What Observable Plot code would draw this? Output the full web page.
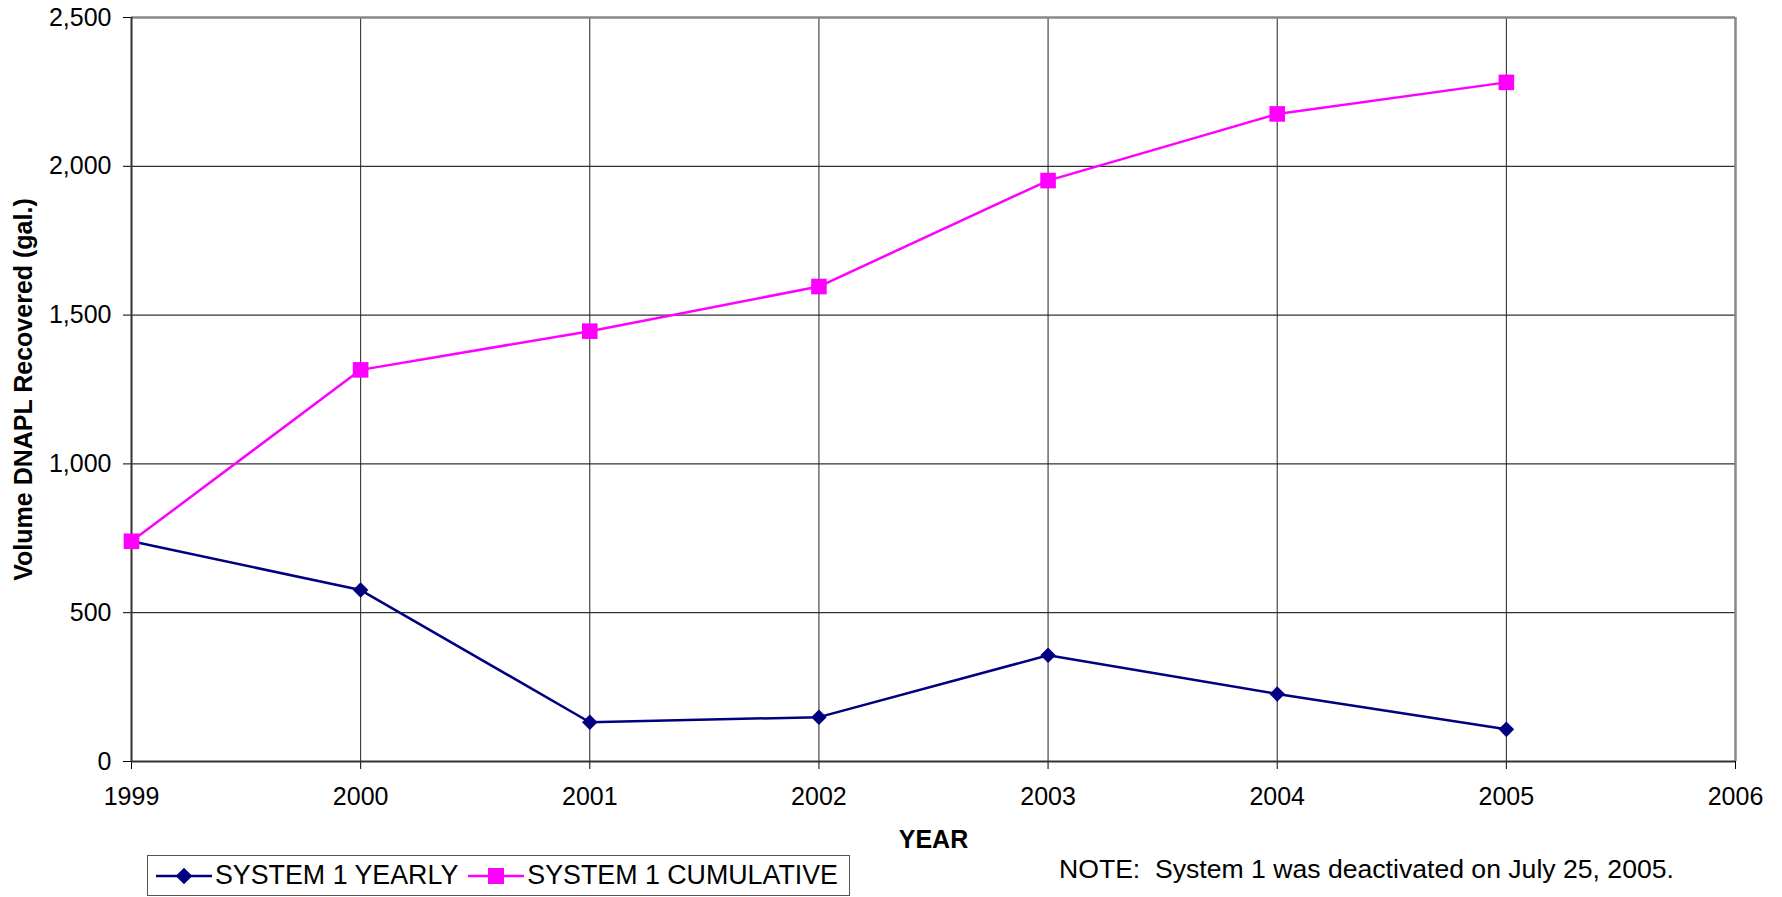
<!DOCTYPE html>
<html>
<head>
<meta charset="utf-8">
<script src="https://cdn.jsdelivr.net/npm/d3@7"></script>
<script src="https://cdn.jsdelivr.net/npm/@observablehq/plot@0.6"></script>
<style>
  html, body { margin: 0; padding: 0; background: #fff; }
  #wrap { position: relative; width: 1782px; height: 897px; font-family: "Liberation Sans", Arial, sans-serif; color: #000; }
  #legend { position: absolute; left: 147px; top: 855px; width: 703px; height: 41px; border: 1px solid #555; box-sizing: border-box; display: flex; align-items: center; font-size: 26.8px; white-space: nowrap; }
  #legend .item { display: flex; align-items: center; }
  #legend svg { display: block; }
  #note { position: absolute; left: 1059px; top: 854px; font-size: 26.6px; white-space: pre; line-height: 30px; }
</style>
</head>
<body>
<div id="wrap">
  <div id="chart"></div>
  <div id="legend"></div>
  <div id="note"></div>
</div>
<script>
const years = [1999, 2000, 2001, 2002, 2003, 2004, 2005];
const yearly = [740, 576, 132, 149, 357, 227, 108];
const cumulative = [740, 1316, 1446, 1596, 1952, 2176, 2282];
const xTicks = [1999, 2000, 2001, 2002, 2003, 2004, 2005, 2006];
const yTicks = [0, 500, 1000, 1500, 2000, 2500];
const seriesNames = ["SYSTEM 1 YEARLY", "SYSTEM 1 CUMULATIVE"];
const seriesColors = ["#000080", "#FF00FF"];
const seriesSymbols = ["diamond2", "square"];
const xTitle = "YEAR";
const yTitle = "Volume DNAPL Recovered (gal.)";
const noteText = "NOTE:  System 1 was deactivated on July 25, 2005.";

const yearlyData = years.map((y, i) => ({year: y, value: yearly[i]}));
const cumData = years.map((y, i) => ({year: y, value: cumulative[i]}));

const chart = Plot.plot({
  width: 1782,
  height: 852,
  marginLeft: 131,
  marginRight: 47,
  marginTop: 17,
  marginBottom: 91,
  style: {fontFamily: "'Liberation Sans', Arial, sans-serif", fontSize: "25px", color: "#000", background: "#fff"},
  x: {domain: [1999, 2006], ticks: xTicks, tickFormat: d => String(d), tickSize: 8, tickPadding: 18, label: null},
  y: {domain: [0, 2500], ticks: yTicks, tickFormat: d3.format(","), tickSize: 8, tickPadding: 12, label: null},
  marks: [
    Plot.ruleY(yTicks.slice(1, -1), {stroke: "#000", strokeWidth: 1}),
    Plot.ruleX(xTicks.slice(1, -1), {stroke: "#222", strokeWidth: 1}),
    Plot.ruleY([yTicks[yTicks.length - 1]], {stroke: "#888", strokeWidth: 2.5}),
    Plot.ruleX([xTicks[xTicks.length - 1]], {stroke: "#888", strokeWidth: 2.5}),
    Plot.ruleX([xTicks[0]], {stroke: "#333", strokeWidth: 2}),
    Plot.ruleY([yTicks[0]], {stroke: "#333", strokeWidth: 2}),
    Plot.line(yearlyData, {x: "year", y: "value", stroke: seriesColors[0], strokeWidth: 2.5}),
    Plot.line(cumData, {x: "year", y: "value", stroke: seriesColors[1], strokeWidth: 2.5}),
    Plot.dot(yearlyData, {x: "year", y: "value", symbol: seriesSymbols[0], r: 7, fill: seriesColors[0], stroke: "none"}),
    Plot.dot(cumData, {x: "year", y: "value", symbol: seriesSymbols[1], r: 8.8, fill: seriesColors[1], stroke: "none"}),
    Plot.text([xTitle], {frameAnchor: "bottom", textAnchor: "middle", dy: 86, fontWeight: "bold", fontSize: 25}),
    Plot.text([yTitle], {frameAnchor: "left", textAnchor: "middle", rotate: -90, dx: -108, fontWeight: "bold", fontSize: 25})
  ]
});
document.getElementById("chart").appendChild(chart);

// Legend
const legend = d3.select("#legend");
const symMap = {diamond2: d3.symbolDiamond2, square: d3.symbolSquare};
const symSizes = [7.5 * 7.5 * Math.PI, 9 * 9 * Math.PI];
seriesNames.forEach((name, i) => {
  const item = legend.append("div").attr("class", "item")
    .style("margin-left", i === 0 ? "8px" : "10px");
  const svg = item.append("svg").attr("width", 56).attr("height", 22);
  svg.append("line").attr("x1", 0).attr("x2", 56).attr("y1", 11).attr("y2", 11)
    .attr("stroke", seriesColors[i]).attr("stroke-width", 2.5);
  svg.append("path").attr("transform", "translate(28,11)")
    .attr("d", d3.symbol(symMap[seriesSymbols[i]], symSizes[i])())
    .attr("fill", seriesColors[i]);
  item.append("span").style("margin-left", "3px").text(name);
});
document.getElementById("note").textContent = noteText;
</script>
</body>
</html>
